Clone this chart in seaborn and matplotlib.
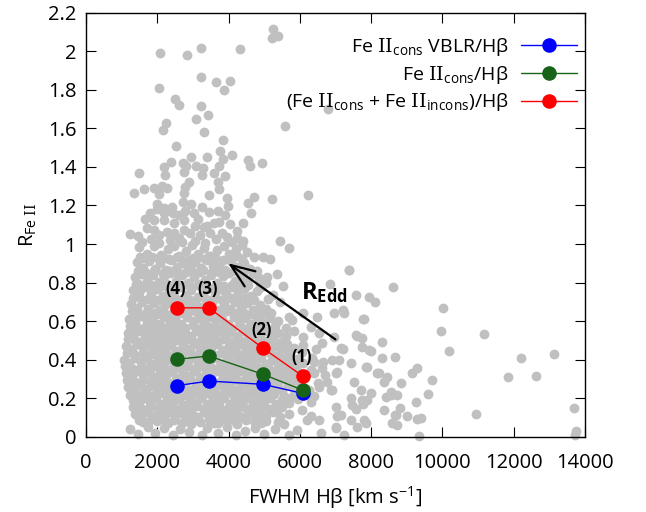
import matplotlib
matplotlib.use("Agg")
import matplotlib.pyplot as plt
import seaborn as sns
import pandas as pd

sns.set_theme(style="ticks")
plt.rcParams["font.family"] = ["Open Sans", "DejaVu Sans"]
plt.rcParams["mathtext.fontset"] = "custom"
plt.rcParams["mathtext.rm"] = "Open Sans"
plt.rcParams["mathtext.it"] = "Open Sans:italic"
plt.rcParams["mathtext.bf"] = "Open Sans:bold"
plt.rcParams["mathtext.sf"] = "DejaVu Serif"
plt.rcParams["text.color"] = "black"
plt.rcParams["axes.labelcolor"] = "black"

# ---- Binned Fe II / Hbeta ratios along the Eddington-ratio sequence ----
fwhm_bins = [2550, 3450, 4970, 6080]
r_cons_vblr = [0.265, 0.289, 0.272, 0.225]
r_cons = [0.402, 0.419, 0.324, 0.242]
r_cons_incons = [0.669, 0.669, 0.459, 0.315]
bin_labels = ["(4)", "(3)", "(2)", "(1)"]
series_labels = [
    r"Fe $\mathsf{II}_{\mathregular{cons}}$ VBLR/H$\mathregular{β}$",
    r"Fe $\mathsf{II}_{\mathregular{cons}}$/H$\mathregular{β}$",
    r"(Fe $\mathsf{II}_{\mathregular{cons}}$ + Fe $\mathsf{II}_{\mathregular{incons}}$)/H$\mathregular{β}$",
]
series_colors = ["#0000ff", "#176317", "#ff0000"]

# ---- Individual quasars: (FWHM Hbeta [km/s], R_FeII) ----
quasars_high = [
    (5253, 2.114), (5225, 2.067), (5393, 2.079), (2087, 1.989), (2837, 1.981),
    (3230, 2.019), (4326, 2.012), (3230, 1.865), (3660, 1.839), (4034, 1.846),
    (3865, 1.799), (2039, 1.809), (2489, 1.752), (2621, 1.721), (3230, 1.716),
    (3416, 1.669), (3098, 1.647), (2236, 1.629), (2152, 1.591), (3303, 1.580),
    (5579, 1.612), (6787, 1.699), (3837, 1.540), (2537, 1.510), (3753, 1.484),
    (3399, 1.450), (2958, 1.453), (4110, 1.460), (3837, 1.439), (4559, 1.436),
    (4615, 1.405), (4944, 1.422), (2388, 1.427), (2199, 1.398), (1478, 1.368),
    (2725, 1.422), (2817, 1.405), (3098, 1.405), (3287, 1.393), (2742, 1.375),
    (2219, 1.358), (3267, 1.358), (3725, 1.405), (3584, 1.367), (3913, 1.353),
    (3708, 1.323), (2882, 1.322), (2781, 1.294), (2275, 1.289), (2124, 1.301),
    (1919, 1.289), (1618, 1.284), (1357, 1.265), (2051, 1.259), (2761, 1.263),
    (3464, 1.256), (3736, 1.287), (6236, 1.254), (5233, 1.232), (4728, 1.245),
    (4559, 1.214), (3961, 1.239), (3989, 1.199), (2725, 1.219), (1994, 1.207),
    (2416, 1.193), (2180, 1.185), (3258, 1.193), (2770, 1.173), (3022, 1.159),
    (3444, 1.168), (3716, 1.171), (1806, 1.159), (4643, 1.159), (2444, 1.159),
    (2180, 1.159), (1899, 1.124), (2180, 1.124), (2480, 1.107), (2761, 1.124),
    (3051, 1.093), (3399, 1.093), (3725, 1.116), (4053, 1.104), (1244, 1.052),
    (1899, 1.073), (2275, 1.064), (2601, 1.030), (2930, 1.055), (3211, 1.047),
    (3492, 1.055), (3820, 1.059), (3961, 1.038), (4242, 1.030), (4410, 1.017),
    (4522, 0.960), (4708, 0.934), (4972, 0.934), (5177, 0.921), (5458, 1.017),
    (5691, 0.981), (5346, 0.844), (5084, 0.830), (4848, 0.822), (7376, 0.865),
    (1560, 1.012), (1830, 1.028), (2050, 1.005), (2370, 1.021), (2700, 1.008),
    (3050, 1.018), (3350, 1.003), (3650, 1.025), (4100, 1.008), (1700, 1.085),
    (2050, 1.045), (2750, 1.075), (3300, 1.090), (3580, 1.110), (4250, 1.070),
    (1650, 1.130), (2600, 1.150), (3900, 1.150), (2000, 1.180), (2950, 1.210),
    (1450, 1.040), (2480, 1.055), (3150, 1.130), (4400, 1.110),
]

quasars_core = [
    (1480, 0.985), (1720, 0.950), (1900, 0.990), (2100, 0.945), (2290, 0.975),
    (2460, 0.990), (2620, 0.940), (2800, 0.965), (2980, 0.995), (3150, 0.950),
    (3320, 0.980), (3510, 0.940), (3680, 0.970), (3860, 0.990), (4020, 0.950),
    (4200, 0.975), (4380, 0.995), (1600, 0.930), (2200, 0.925), (3000, 0.930),
    (1420, 0.905), (1590, 0.875), (1760, 0.910), (1930, 0.870), (2080, 0.900),
    (2250, 0.865), (2400, 0.915), (2560, 0.880), (2730, 0.900), (2890, 0.870),
    (3060, 0.905), (3230, 0.875), (3390, 0.915), (3560, 0.885), (3720, 0.900),
    (3900, 0.865), (4070, 0.910), (4250, 0.880), (4430, 0.900), (4600, 0.870),
    (1850, 0.935), (2650, 0.935), (3450, 0.940), (4250, 0.940),
    (1380, 0.830), (1550, 0.845), (1700, 0.810), (1880, 0.840), (2040, 0.805),
    (2200, 0.835), (2370, 0.850), (2530, 0.810), (2700, 0.840), (2860, 0.800),
    (3020, 0.830), (3190, 0.855), (3350, 0.815), (3520, 0.840), (3690, 0.800),
    (3850, 0.835), (4010, 0.850), (4180, 0.810), (4350, 0.840), (4520, 0.815),
    (4700, 0.845), (5050, 0.800), (1460, 0.795), (2120, 0.780), (2940, 0.865),
    (3600, 0.870), (4450, 0.775),
    (1320, 0.760), (1500, 0.745), (1660, 0.775), (1820, 0.740), (1990, 0.765),
    (2150, 0.730), (2310, 0.770), (2470, 0.745), (2640, 0.775), (2800, 0.735),
    (2960, 0.760), (3130, 0.785), (3290, 0.745), (3450, 0.770), (3620, 0.735),
    (3780, 0.765), (3940, 0.740), (4110, 0.775), (4270, 0.745), (4440, 0.765),
    (4620, 0.730), (4800, 0.755), (5250, 0.735), (1750, 0.715), (2550, 0.710),
    (3370, 0.715), (4150, 0.710),
    (1260, 0.690), (1420, 0.670), (1580, 0.700), (1750, 0.665), (1910, 0.695),
    (2070, 0.660), (2230, 0.685), (2390, 0.700), (2560, 0.655), (2720, 0.690),
    (2880, 0.665), (3050, 0.700), (3210, 0.675), (3370, 0.645), (3540, 0.695),
    (3700, 0.660), (3860, 0.690), (4030, 0.665), (4190, 0.700), (4360, 0.670),
    (4530, 0.695), (4700, 0.660), (4880, 0.685), (5060, 0.665), (5450, 0.700),
    (1350, 0.640), (2000, 0.635), (2700, 0.640), (3450, 0.635), (4250, 0.640),
    (4950, 0.635),
    (1220, 0.610), (1380, 0.595), (1540, 0.625), (1700, 0.600), (1860, 0.615),
    (2020, 0.585), (2180, 0.620), (2350, 0.595), (2510, 0.610), (2670, 0.585),
    (2840, 0.620), (3000, 0.600), (3160, 0.615), (3320, 0.590), (3490, 0.620),
    (3650, 0.600), (3810, 0.610), (3980, 0.585), (4140, 0.620), (4300, 0.600),
    (4470, 0.615), (4630, 0.585), (4800, 0.605), (4970, 0.590), (5150, 0.615),
    (5400, 0.600), (5700, 0.620), (1300, 0.565), (1950, 0.560), (2600, 0.555),
    (3250, 0.560), (3900, 0.555), (4550, 0.560), (5250, 0.560),
    (1170, 0.540), (1330, 0.525), (1490, 0.550), (1650, 0.530), (1810, 0.545),
    (1970, 0.520), (2130, 0.550), (2290, 0.530), (2450, 0.545), (2610, 0.515),
    (2780, 0.540), (2940, 0.525), (3100, 0.550), (3260, 0.520), (3420, 0.540),
    (3580, 0.530), (3750, 0.550), (3910, 0.520), (4070, 0.545), (4230, 0.525),
    (4400, 0.550), (4560, 0.520), (4720, 0.540), (4890, 0.525), (5050, 0.550),
    (5220, 0.520), (5400, 0.540), (5600, 0.525), (5850, 0.550), (6100, 0.520),
    (1400, 0.495), (2050, 0.490), (2700, 0.490), (3350, 0.485), (4000, 0.490),
    (4650, 0.490), (5300, 0.490),
    (1120, 0.470), (1280, 0.455), (1440, 0.480), (1600, 0.460), (1760, 0.475),
    (1920, 0.450), (2080, 0.480), (2240, 0.460), (2400, 0.475), (2560, 0.445),
    (2720, 0.470), (2880, 0.455), (3040, 0.480), (3200, 0.450), (3360, 0.470),
    (3520, 0.460), (3680, 0.480), (3840, 0.450), (4000, 0.465), (4160, 0.455),
    (4320, 0.480), (4480, 0.450), (4640, 0.470), (4800, 0.460), (4960, 0.480),
    (5120, 0.450), (5290, 0.470), (5460, 0.455), (5650, 0.480), (5850, 0.460),
    (6100, 0.475), (6450, 0.455), (6050, 0.440),
    (1060, 0.400), (1220, 0.385), (1380, 0.410), (1540, 0.390), (1700, 0.405),
    (1860, 0.380), (2020, 0.410), (2180, 0.390), (2340, 0.405), (2500, 0.375),
    (2660, 0.400), (2820, 0.385), (2980, 0.410), (3140, 0.380), (3300, 0.400),
    (3460, 0.390), (3620, 0.410), (3780, 0.380), (3940, 0.395), (4100, 0.385),
    (4260, 0.410), (4420, 0.380), (4580, 0.400), (4740, 0.390), (4900, 0.410),
    (5060, 0.380), (5220, 0.400), (5390, 0.385), (5560, 0.410), (5730, 0.390),
    (5900, 0.405), (6100, 0.385), (6350, 0.410), (6650, 0.390), (6900, 0.400),
    (1150, 0.355), (1800, 0.350), (2450, 0.345), (3100, 0.350), (3750, 0.345),
    (4400, 0.350), (5050, 0.345), (5700, 0.350), (6300, 0.345),
    (1120, 0.330), (1280, 0.315), (1440, 0.340), (1600, 0.320), (1760, 0.335),
    (1920, 0.310), (2080, 0.340), (2240, 0.320), (2400, 0.335), (2560, 0.305),
    (2720, 0.330), (2880, 0.315), (3040, 0.340), (3200, 0.310), (3360, 0.330),
    (3520, 0.320), (3680, 0.340), (3840, 0.310), (4000, 0.325), (4160, 0.315),
    (4320, 0.340), (4480, 0.310), (4640, 0.330), (4800, 0.320), (4960, 0.340),
    (5120, 0.310), (5280, 0.330), (5450, 0.315), (5620, 0.340), (5790, 0.320),
    (5960, 0.335), (6150, 0.310), (6400, 0.330), (6700, 0.320), (7050, 0.335),
    (1350, 0.285), (2000, 0.280), (2650, 0.275), (3300, 0.280), (3950, 0.275),
    (4600, 0.280), (5250, 0.275), (5900, 0.280), (6500, 0.280),
    (1180, 0.260), (1340, 0.245), (1500, 0.270), (1660, 0.250), (1820, 0.265),
    (1980, 0.240), (2140, 0.270), (2300, 0.250), (2460, 0.265), (2620, 0.235),
    (2780, 0.260), (2940, 0.245), (3100, 0.270), (3260, 0.240), (3420, 0.260),
    (3580, 0.250), (3740, 0.270), (3900, 0.240), (4060, 0.255), (4220, 0.245),
    (4380, 0.270), (4540, 0.240), (4700, 0.260), (4860, 0.250), (5020, 0.270),
    (5180, 0.240), (5340, 0.260), (5510, 0.245), (5680, 0.270), (5850, 0.250),
    (6030, 0.265), (6250, 0.240), (6550, 0.260), (6900, 0.245),
    (1250, 0.215), (1900, 0.210), (2550, 0.205), (3200, 0.210), (3850, 0.205),
    (4500, 0.210), (5150, 0.205), (5800, 0.210), (6400, 0.210),
    (1320, 0.190), (1480, 0.175), (1640, 0.200), (1800, 0.180), (1960, 0.195),
    (2120, 0.170), (2280, 0.200), (2440, 0.180), (2600, 0.195), (2760, 0.165),
    (2920, 0.190), (3080, 0.175), (3240, 0.200), (3400, 0.170), (3560, 0.190),
    (3720, 0.180), (3880, 0.200), (4040, 0.170), (4200, 0.185), (4360, 0.175),
    (4520, 0.200), (4680, 0.170), (4840, 0.190), (5000, 0.180), (5160, 0.200),
    (5320, 0.170), (5500, 0.190), (5700, 0.175), (5950, 0.195), (6300, 0.180),
    (1450, 0.145), (2100, 0.140), (2750, 0.135), (3400, 0.140), (4050, 0.135),
    (4700, 0.140), (5350, 0.135), (6050, 0.140),
    (1380, 0.120), (1540, 0.105), (1700, 0.130), (1860, 0.110), (2020, 0.125),
    (2180, 0.100), (2340, 0.130), (2500, 0.110), (2660, 0.125), (2820, 0.095),
    (2980, 0.120), (3140, 0.105), (3300, 0.130), (3460, 0.100), (3620, 0.120),
    (3780, 0.110), (3940, 0.130), (4100, 0.100), (4260, 0.115), (4420, 0.105),
    (4580, 0.130), (4740, 0.100), (4900, 0.120), (5060, 0.110), (5250, 0.130),
    (5450, 0.100), (5700, 0.120), (6300, 0.110),
    (1600, 0.075), (2300, 0.070), (2950, 0.065), (3600, 0.070), (4250, 0.065),
    (4900, 0.070), (5550, 0.065),
    (1250, 0.040), (1450, 0.015), (1750, 0.050), (1950, 0.020), (2200, 0.045),
    (2450, 0.010), (2650, 0.040), (2900, 0.025), (3250, 0.010), (3400, 0.045),
    (3700, 0.020), (3950, 0.050), (4200, 0.010), (4450, 0.030), (4750, 0.045),
    (5000, 0.015), (5300, 0.040), (5700, 0.010), (5930, 0.035), (6600, 0.020),
]

quasars_core_fill = [
    (1530, 0.931), (1780, 0.919), (2010, 0.927), (2330, 0.921), (2560, 0.933),
    (2870, 0.918), (3120, 0.926), (3330, 0.922), (3620, 0.932), (3850, 0.917),
    (4080, 0.928), (4380, 0.920),
    (1460, 0.861), (1680, 0.849), (1900, 0.858), (2150, 0.852), (2370, 0.862),
    (2580, 0.847), (2800, 0.856), (3030, 0.851), (3280, 0.863), (3500, 0.848),
    (3730, 0.857), (3960, 0.850), (4180, 0.861), (4410, 0.846), (4800, 0.858),
    (1400, 0.791), (1620, 0.779), (1830, 0.788), (2060, 0.781), (2280, 0.792),
    (2480, 0.777), (2720, 0.786), (2920, 0.780), (3180, 0.793), (3410, 0.778),
    (3640, 0.787), (3860, 0.781), (4090, 0.790), (4300, 0.777), (4560, 0.788),
    (4900, 0.779),
    (1330, 0.721), (1560, 0.709), (1790, 0.718), (2010, 0.712), (2240, 0.722),
    (2460, 0.707), (2690, 0.716), (2910, 0.710), (3140, 0.723), (3380, 0.708),
    (3590, 0.717), (3820, 0.711), (4060, 0.720), (4280, 0.707), (4500, 0.718),
    (4720, 0.709), (5100, 0.716),
    (1290, 0.651), (1500, 0.639), (1720, 0.648), (1930, 0.642), (2150, 0.652),
    (2380, 0.637), (2620, 0.646), (2840, 0.640), (3070, 0.653), (3290, 0.638),
    (3520, 0.647), (3740, 0.641), (3960, 0.650), (4180, 0.637), (4410, 0.648),
    (4630, 0.639), (4850, 0.646), (5200, 0.641),
    (1230, 0.576), (1460, 0.564), (1680, 0.573), (1890, 0.567), (2110, 0.577),
    (2330, 0.562), (2560, 0.571), (2780, 0.565), (3000, 0.578), (3220, 0.563),
    (3440, 0.572), (3670, 0.566), (3890, 0.575), (4110, 0.562), (4330, 0.573),
    (4560, 0.564), (4780, 0.571), (5000, 0.566), (5300, 0.574), (5600, 0.563),
    (1190, 0.506), (1420, 0.494), (1640, 0.503), (1860, 0.497), (2080, 0.507),
    (2300, 0.492), (2520, 0.501), (2740, 0.495), (2960, 0.508), (3180, 0.493),
    (3400, 0.502), (3620, 0.496), (3840, 0.505), (4060, 0.492), (4290, 0.503),
    (4510, 0.494), (4740, 0.501), (4960, 0.496), (5200, 0.504), (5500, 0.493),
    (1150, 0.436), (1380, 0.424), (1600, 0.433), (1820, 0.427), (2040, 0.437),
    (2260, 0.422), (2480, 0.431), (2700, 0.425), (2920, 0.438), (3140, 0.423),
    (3360, 0.432), (3580, 0.426), (3800, 0.435), (4020, 0.422), (4240, 0.433),
    (4470, 0.424), (4690, 0.431), (4920, 0.426), (5150, 0.434), (5400, 0.423),
    (5700, 0.432),
    (1100, 0.366), (1330, 0.354), (1550, 0.363), (1770, 0.357), (1990, 0.367),
    (2210, 0.352), (2430, 0.361), (2650, 0.355), (2870, 0.368), (3090, 0.353),
    (3310, 0.362), (3530, 0.356), (3750, 0.365), (3970, 0.352), (4190, 0.363),
    (4420, 0.354), (4640, 0.361), (4870, 0.356), (5100, 0.364), (5350, 0.353),
    (5600, 0.362), (5900, 0.356),
    (1160, 0.296), (1390, 0.284), (1610, 0.293), (1830, 0.287), (2050, 0.297),
    (2270, 0.282), (2490, 0.291), (2710, 0.285), (2930, 0.298), (3150, 0.283),
    (3370, 0.292), (3590, 0.286), (3810, 0.295), (4030, 0.282), (4250, 0.293),
    (4480, 0.284), (4700, 0.291), (4930, 0.286), (5160, 0.294), (5400, 0.283),
    (5650, 0.292), (6000, 0.286),
    (1280, 0.226), (1500, 0.214), (1720, 0.223), (1940, 0.217), (2160, 0.227),
    (2380, 0.212), (2600, 0.221), (2820, 0.215), (3040, 0.228), (3260, 0.213),
    (3480, 0.222), (3700, 0.216), (3920, 0.225), (4140, 0.212), (4360, 0.223),
    (4590, 0.214), (4810, 0.221), (5040, 0.216), (5280, 0.224), (5550, 0.213),
    (6100, 0.222),
    (1330, 0.156), (1580, 0.144), (1800, 0.153), (2020, 0.147), (2240, 0.157),
    (2460, 0.142), (2680, 0.151), (2900, 0.145), (3120, 0.158), (3340, 0.143),
    (3560, 0.152), (3780, 0.146), (4000, 0.155), (4220, 0.142), (4440, 0.153),
    (4670, 0.144), (4900, 0.151), (5150, 0.146), (5500, 0.154),
    (1500, 0.086), (1750, 0.074), (2000, 0.083), (2250, 0.077), (2480, 0.087),
    (2700, 0.072), (2950, 0.081), (3200, 0.075), (3450, 0.088), (3700, 0.073),
    (3950, 0.082), (4200, 0.076), (4480, 0.085), (4750, 0.072), (5050, 0.083),
    (5400, 0.076),
]

quasars_broad = [
    (5523, 0.782), (4896, 0.782), (6843, 0.792), (7236, 0.643), (7798, 0.609),
    (8099, 0.700), (8624, 0.778), (7593, 0.523), (8315, 0.493), (7938, 0.450),
    (8660, 0.412), (7143, 0.459), (7424, 0.381), (7096, 0.398), (7846, 0.360),
    (8174, 0.332), (8455, 0.311), (8548, 0.216), (8360, 0.139), (8660, 0.113),
    (8736, 0.061), (7705, 0.242), (7893, 0.190), (7472, 0.164), (7846, 0.070),
    (7424, 0.087), (7003, 0.052), (7143, 0.113), (6862, 0.242), (6770, 0.285),
    (7003, 0.329), (6629, 0.355), (6393, 0.389), (6629, 0.485), (6955, 0.519),
    (6534, 0.537), (6301, 0.571), (6489, 0.623), (6096, 0.640), (5787, 0.606),
    (7388, 0.865), (7565, 0.735), (7938, 0.723), (10028, 0.666), (6955, 0.640),
    (7219, 0.657), (7781, 0.611), (9952, 0.550), (11169, 0.533), (10185, 0.445),
    (7565, 0.528), (7733, 0.514), (7753, 0.464), (8006, 0.446), (7219, 0.454),
    (8315, 0.410), (12200, 0.410), (13118, 0.429), (7874, 0.363), (8219, 0.329),
    (9138, 0.329), (9298, 0.355), (9719, 0.294), (8829, 0.280), (8360, 0.285),
    (7517, 0.285), (11843, 0.308), (12621, 0.315), (7986, 0.228), (8548, 0.233),
    (8736, 0.216), (8407, 0.208), (9596, 0.222), (7733, 0.190), (7770, 0.170),
    (9250, 0.179), (8801, 0.147), (10944, 0.118), (13680, 0.147), (8688, 0.113),
    (8997, 0.107), (9298, 0.090), (9410, 0.095), (8596, 0.070), (7612, 0.052),
    (7798, 0.087), (7003, 0.044), (7236, 0.009), (9343, 0.004), (13734, 0.031),
    (13716, 0.009), (7565, 0.142), (7003, 0.156), (7424, 0.199), (6534, 0.087),
    (6208, 0.087), (7050, 0.107),
]

# Arrow showing the direction of increasing Eddington ratio
redd_tail = (7000, 0.505)
redd_head = (3990, 0.900)
redd_text_pos = (6040, 0.75)

tick_x = [0, 2000, 4000, 6000, 8000, 10000, 12000, 14000]
tick_y = [0, 0.2, 0.4, 0.6, 0.8, 1.0, 1.2, 1.4, 1.6, 1.8, 2.0, 2.2]

quasars = pd.DataFrame(quasars_high + quasars_core + quasars_core_fill + quasars_broad,
                       columns=["fwhm", "rfe"])
bins = pd.DataFrame({
    "fwhm": fwhm_bins * 3,
    "rfe": r_cons_vblr + r_cons + r_cons_incons,
    "series": [s for s in series_labels for _ in fwhm_bins],
})

fig = plt.figure(figsize=(6.46, 5.12), dpi=100)
ax = fig.add_axes([0.133, 0.147, 0.7726, 0.828])

sns.scatterplot(data=quasars, x="fwhm", y="rfe", ax=ax, color="#c0c0c0",
                s=50, linewidth=0, legend=False, clip_on=False, zorder=2)

for label, color in zip(series_labels, series_colors):
    sub = bins[bins["series"] == label]
    sns.lineplot(data=sub, x="fwhm", y="rfe", ax=ax, color=color, lw=1.0,
                 marker="o", markersize=10.5, markeredgecolor=color,
                 markeredgewidth=0, sort=False, estimator=None,
                 label=label, legend=False, zorder=4)

for lab, xv, yv in zip(bin_labels, fwhm_bins, r_cons_incons):
    ax.annotate(lab, (xv, yv), xytext=(-1, 13.5), textcoords="offset points",
                ha="center", va="center", fontsize=12, fontweight="bold",
                color="black", zorder=5)

ax.annotate("", xy=redd_head, xytext=redd_tail,
            arrowprops=dict(arrowstyle="->,head_length=0.9,head_width=0.35",
                            color="black", lw=1.6, mutation_scale=19,
                            shrinkA=0, shrinkB=0),
            zorder=5)
ax.text(redd_text_pos[0], redd_text_pos[1], r"$\mathbf{R_{Edd}}$",
        fontsize=17, ha="left", va="center", color="black", zorder=5)

ax.set_xlim(0, 14000)
ax.set_ylim(0, 2.2)
ax.set_xticks(tick_x)
ax.set_xticklabels([f"{v:g}" for v in tick_x])
ax.set_yticks(tick_y)
ax.set_yticklabels([f"{v:g}" for v in tick_y])
ax.tick_params(direction="in", length=7, width=0.8, top=True, right=True,
               labelsize=14.5, colors="black")
ax.tick_params(axis="x", pad=12)
ax.tick_params(axis="y", pad=7)
for sp in ax.spines.values():
    sp.set_visible(True)
    sp.set_color("black")
    sp.set_linewidth(1.0)
    sp.set_zorder(6)

ax.set_xlabel(r"FWHM H$\mathregular{β}$ [km s$^{\mathregular{-1}}$]",
              fontsize=14.5, labelpad=8, color="black")
ax.set_ylabel(r"R$_{\mathregular{Fe}\ \mathsf{II}}$", fontsize=14.5, labelpad=6,
              color="black")

handles = ax.get_lines()[:3]
leg = ax.legend(handles, series_labels, loc="upper right",
                bbox_to_anchor=(0.984, 0.946), frameon=False, markerfirst=False,
                fontsize=14, handlelength=2.9, handletextpad=0.6,
                labelspacing=0.3, borderpad=0, borderaxespad=0,
                labelcolor="black")

fig.savefig("out.png", dpi=100)
